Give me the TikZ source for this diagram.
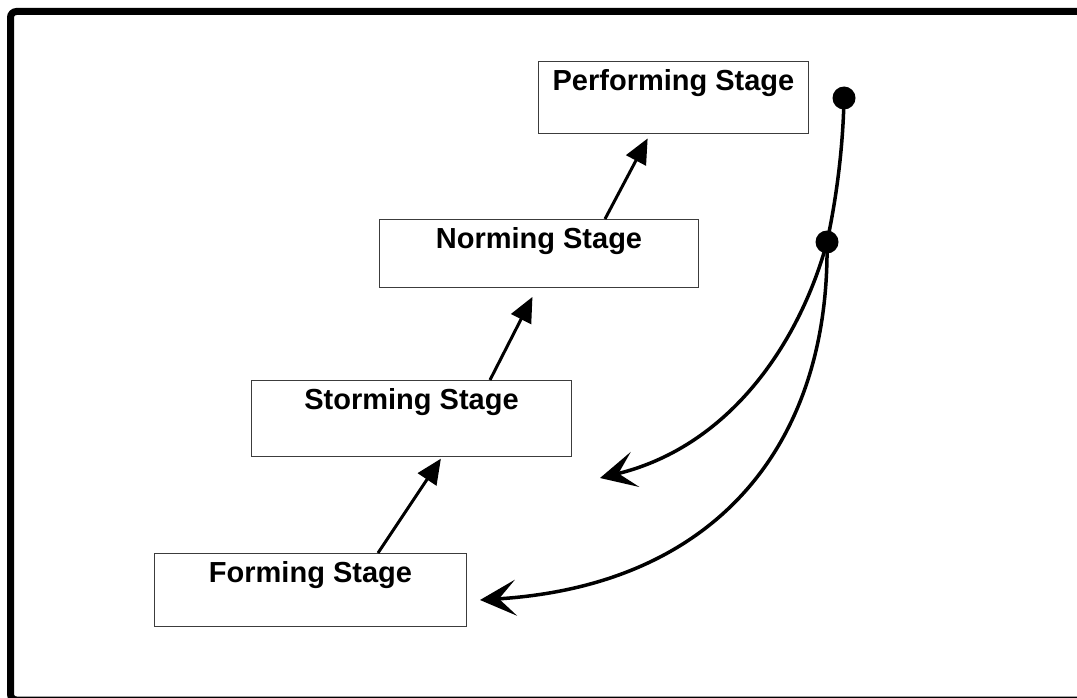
\documentclass[tikz,border=0pt]{standalone}
\usepackage{fontspec}
\setmainfont{Liberation Sans}
\usepackage{xcolor}
\usepackage{tikz}
\usetikzlibrary{arrows.meta}
\definecolor{boxline}{RGB}{60,60,60}

\begin{document}
\begin{tikzpicture}[x=1pt, y=-1pt,
    stage/.style={draw=boxline, line width=1pt, rectangle, inner sep=0pt, anchor=north west, text height=29pt, font=\bfseries\fontsize{29}{29}\selectfont},
    spot/.style={circle, fill=black, inner sep=0pt, minimum size=23pt},
    upstep/.style={-{Triangle[length=25pt, width=22pt]}, line width=3pt},
    loop/.style={-{Stealth[length=36pt, width=36pt, inset=17pt]}, line width=3.5pt}]
            \clip (0,0) rectangle (1077,698);
            \draw[line width=7pt, rounded corners=6pt] (1100,11.5) -- (10.5,11.5) -- (10.5,700) -- (1100,700);

            \node [stage, minimum width=312pt, text depth=44pt] (forming) at (154,553) {Forming Stage};
            \node [stage, minimum width=320pt, text depth=47pt] (storming) at (251,380) {Storming Stage};
            \node [stage, minimum width=319pt, text depth=39pt] (norming) at (379,219) {Norming Stage};
            \node [stage, minimum width=270pt, text depth=43pt] (performing) at (538,61) {Performing Stage};

            \draw[upstep, shorten >=2pt] ([xshift=224pt]forming.north west) -- ([xshift=191pt]storming.south west);
            \draw[upstep, shorten >=10pt] ([xshift=239pt]storming.north west) -- ([xshift=158pt]norming.south west);
            \draw[upstep, shorten >=5pt] ([xshift=226pt]norming.north west) -- ([xshift=112pt]performing.south west);

            \node [spot] (top) at (844,98) {};
            \node [spot] (mid) at (827,242) {};
            \coordinate (upperend) at (600,478);
            \coordinate (lowerend) at (480,600);

            \draw[line width=3.5pt] (top.center) .. controls (843,150) and (836,200) .. (mid.center);
            \draw[loop] (mid.center) .. controls (802,335) and (735,445) .. (upperend);
            \draw[loop] (mid.center) .. controls (830,440) and (720,585) .. (lowerend);
        \end{tikzpicture}
\end{document}
